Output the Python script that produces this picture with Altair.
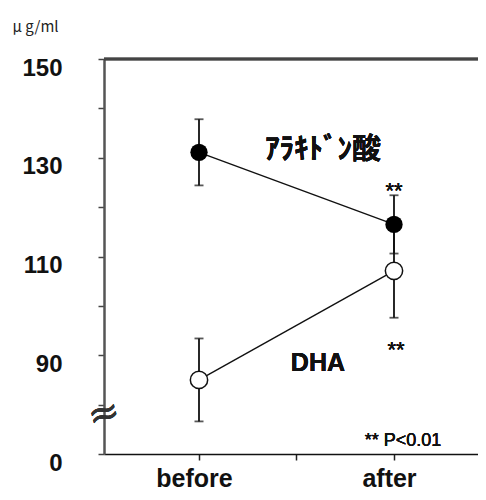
import altair as alt
import pandas as pd

# ---- data ----
times = ["before", "after"]
time_pos = [1, 2]
ara_mean = [131.1, 116.5]
ara_err = [6.7, 5.9]
dha_mean = [85.0, 107.1]
dha_err = [8.4, 9.5]

rows = []
for name, means, errs in [("ara", ara_mean, ara_err), ("dha", dha_mean, dha_err)]:
    for t, xp, m, e in zip(times, time_pos, means, errs):
        rows.append({"series": name, "time": t, "x": xp, "mean": m, "lo": m - e, "hi": m + e})
df = pd.DataFrame(rows)

xscale = alt.Scale(domain=[0.5128, 2.4308], nice=False, zero=False)
yscale = alt.Scale(domain=[70, 150], nice=False, zero=False)

xaxis = alt.Axis(
    values=[1, 1.5, 2],
    labelExpr="datum.value == 1 ? 'before' : (datum.value == 2 ? 'after' : '')",
    grid=False, tickSize=6, tickWidth=1.5, tickColor="#222",
    domainColor="#111", domainWidth=1.5,
    labelFont="Liberation Sans", labelFontSize=25, labelFontWeight="bold",
    labelColor="#111", labelPadding=6, labelOffset=-5, labelFlush=False,
    title=None,
)
yaxis = alt.Axis(
    values=[70, 80, 90, 100, 110, 120, 130, 140, 150],
    labelExpr="datum.value == 70 ? '0' : (datum.value % 20 == 10 ? datum.value : '')",
    grid=False, tickSize=6, tickWidth=1.5, tickColor="#444",
    domainColor="#555", domainWidth=2.5,
    labelFont="Liberation Sans", labelFontSize=24, labelFontWeight="bold",
    labelColor="#111", labelPadding=36, labelOffset=9, labelBaseline="middle",
    title="μ g/ml", titleAngle=0, titleX=-92, titleY=-33, titleAlign="left",
    titleBaseline="middle", titleFont="Noto Sans CJK JP", titleFontSize=15,
    titleFontWeight="normal", titleColor="#222",
)

base = alt.Chart(df)

top_line = alt.Chart(df).mark_rule(color="#444", strokeWidth=2.5).encode(
    y=alt.datum(150, scale=yscale)
)

err_rule = base.mark_rule(color="#111", strokeWidth=1.8).encode(
    x=alt.X("x:Q", scale=xscale, axis=xaxis),
    y=alt.Y("lo:Q", scale=yscale, axis=yaxis),
    y2="hi:Q",
)
cap_lo = base.mark_tick(color="#111", orient="horizontal", size=9, thickness=1.8).encode(
    x=alt.X("x:Q", scale=xscale), y=alt.Y("lo:Q", scale=yscale)
)
cap_hi = base.mark_tick(color="#111", orient="horizontal", size=9, thickness=1.8).encode(
    x=alt.X("x:Q", scale=xscale), y=alt.Y("hi:Q", scale=yscale)
)
lines = base.mark_line(color="#111", strokeWidth=1.4).encode(
    x=alt.X("x:Q", scale=xscale), y=alt.Y("mean:Q", scale=yscale), detail="series:N"
)
ara_pts = base.transform_filter(alt.datum.series == "ara").mark_point(
    shape="circle", filled=True, color="#000", size=300, opacity=1
).encode(x=alt.X("x:Q", scale=xscale), y=alt.Y("mean:Q", scale=yscale))
dha_pts = base.transform_filter(alt.datum.series == "dha").mark_point(
    shape="circle", filled=True, fill="#fff", stroke="#111", strokeWidth=1.5, size=300, opacity=1
).encode(x=alt.X("x:Q", scale=xscale), y=alt.Y("mean:Q", scale=yscale))


def label(text, xv, yv, size, font="Liberation Sans", weight="bold", angle=0, color="#111"):
    return alt.Chart(df).mark_text(
        text=text, font=font, fontSize=size, fontWeight=weight, color=color,
        align="center", baseline="middle", angle=angle,
    ).encode(x=alt.datum(xv, scale=xscale), y=alt.datum(yv, scale=yscale))


annots = [
    label("ｱﾗｷﾄﾞﾝ酸", 1.636, 131.5, 29, font="Noto Sans CJK JP"),
    label("DHA", 1.61, 88.4, 25),
    label("**", 2.0, 123.3, 22, weight="normal"),
    label("**", 2.01, 91.1, 22, weight="normal"),
    label("** P<0.01", 2.046, 72.6, 18, weight="normal"),
    label("≈", 0.5128, 78, 38, font="DejaVu Sans", weight="normal", angle=345, color="#333"),
]

chart = alt.layer(top_line, err_rule, cap_lo, cap_hi, lines, ara_pts, dha_pts, *annots).properties(
    width=374, height=395,
    autosize=alt.AutoSizeParams(type="none"),
    padding={"left": 96, "top": 51, "right": 0, "bottom": 38},
    background="white",
).configure_view(stroke="transparent", strokeWidth=0)

chart.save("out.html", embed_options={"renderer": "svg", "actions": False})
